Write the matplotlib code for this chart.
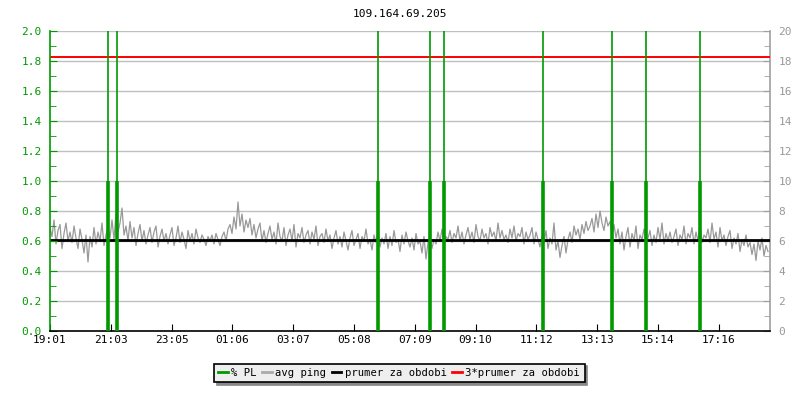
import matplotlib
matplotlib.use("Agg")
import matplotlib.pyplot as plt
from matplotlib.ticker import MultipleLocator
from matplotlib.lines import Line2D

title = "109.164.69.205"
x_tick_labels = ["19:01", "21:03", "23:05", "01:06", "03:07", "05:08",
                 "07:09", "09:10", "11:12", "13:13", "15:14", "17:16"]
x_tick_step_min = 121.6
span_min = 1440

# packet loss events (minutes since 19:01, % PL on left axis)
pl_minutes = [116, 134, 656, 760, 788, 986, 1124, 1192, 1300]
pl_values = [1.0, 1.0, 1.0, 1.0, 1.0, 1.0, 1.0, 1.0, 1.0]

# avg ping (ms, right axis), one sample every 4 minutes
avg_ping = [
    6.9, 6.3, 7.4, 5.8, 6.7, 7.1, 5.5, 6.5, 7.2, 6.0,
    6.6, 5.9, 7.0, 6.2, 5.5, 6.8, 6.1, 5.2, 6.4, 4.6,
    6.3, 5.6, 6.9, 5.8, 6.6, 6.0, 7.2, 5.7, 6.4, 6.9,
    6.2, 7.4, 6.1, 7.8, 6.6, 7.2, 8.2, 6.4, 7.0, 6.0,
    7.3, 6.2, 6.9, 5.7, 6.5, 7.1, 6.0, 6.7, 5.8, 6.4,
    6.9, 5.9, 6.6, 7.0, 5.6, 6.3, 6.8, 6.0, 6.5, 5.8,
    6.4, 6.9, 5.7, 6.2, 7.0, 5.9, 6.6, 6.1, 5.5, 6.7,
    6.0, 6.5, 5.8, 6.8, 6.2, 5.9, 6.4, 6.1, 5.7, 6.3,
    6.0, 6.4, 5.8, 6.5, 6.1, 5.7, 6.3, 6.6, 6.0, 6.8,
    7.1, 6.5, 7.6, 6.8, 8.6, 7.0, 7.8, 6.6, 7.4, 6.9,
    7.5, 6.4, 7.1, 6.2, 6.8, 7.2, 6.0, 6.7, 5.9, 6.5,
    7.0, 6.1, 6.6, 5.8, 7.2, 6.3, 6.0, 6.9, 5.7, 6.4,
    6.8, 6.0, 7.1, 5.6, 6.5, 6.2, 6.9, 5.9, 6.4, 6.7,
    5.8, 6.6, 6.1, 7.0, 5.7, 6.3, 6.5, 5.9, 6.8, 6.0,
    6.4, 5.5, 6.2, 6.7, 5.8, 6.3, 5.6, 6.6, 6.0, 5.4,
    6.2, 6.7, 5.7, 6.1, 6.5, 5.5, 6.3, 6.0, 6.8, 5.8,
    6.1, 5.4, 6.4, 5.9, 6.6, 5.6, 6.2, 5.8, 6.5, 5.5,
    6.3, 5.7, 6.7, 5.9, 6.1, 5.3, 6.4, 5.8, 6.6, 6.0,
    5.6, 6.2, 5.4, 6.5, 5.8, 6.0, 5.2, 6.3, 4.8, 5.9,
    6.4, 5.5, 6.1, 5.8, 6.6, 6.0, 6.8, 5.7, 6.3, 6.1,
    6.7, 5.9, 6.5, 6.2, 7.0, 6.0, 6.6, 5.8, 6.4, 6.9,
    6.1, 6.6, 5.9, 7.1, 6.3, 6.0, 6.8, 6.2, 6.5, 5.8,
    6.9, 6.3, 6.6, 6.0, 7.2, 6.2, 6.7, 6.1, 6.4, 5.9,
    6.8, 6.2, 7.0, 6.0, 6.5, 6.3, 6.9, 5.8, 6.6, 6.1,
    6.4, 6.9, 5.8, 6.6, 6.1, 5.6, 6.3, 5.9, 6.7, 5.5,
    6.2, 5.8, 7.2, 5.4, 6.0, 4.9, 5.7, 6.3, 5.2, 6.1,
    6.6, 5.9, 7.0, 6.4, 6.8, 6.1, 7.1, 6.5, 7.3, 6.7,
    7.0, 7.5, 6.6, 7.8, 6.9, 8.0, 7.2, 6.7, 7.6, 7.0,
    7.3, 6.4, 7.1, 6.2, 6.8, 5.8, 6.6, 5.4, 6.3, 6.9,
    5.6, 6.5, 6.0, 7.0, 5.5, 6.4, 6.1, 6.8, 5.9, 6.2,
    6.7, 5.7, 6.4, 5.9, 6.9, 6.1, 7.2, 5.8, 6.5, 6.0,
    6.6, 5.9, 6.3, 6.8, 5.7, 6.4, 6.1, 7.0, 5.8, 6.5,
    6.2, 6.9, 5.8, 6.6, 6.0, 7.1, 5.9, 6.4, 6.2, 6.8,
    5.9, 7.2, 6.1, 6.6, 5.6, 6.9, 6.0, 6.4, 5.7, 6.3,
    6.7, 5.5, 6.2, 5.8, 6.5, 5.3, 6.1, 5.7, 6.4, 5.6,
    5.9, 5.1, 5.8, 4.7, 6.0, 5.4, 6.2, 5.0, 5.7, 5.3,
]
sample_step_min = 4
mean_ping = 6.1  # prumer za obdobi (ms)

green = "#009900"
gray_line = "#999999"
grid_c = "#c0c0c0"
font = "DejaVu Sans Mono"
fs_tick = 8.0
fs_leg = 7.6

fig = plt.figure(figsize=(8, 4), dpi=100)
ax = fig.add_axes([0.0625, 0.1725, 0.9, 0.75])
ax2 = ax.twinx()

ax.set_xlim(0, span_min)
ax.set_ylim(0, 2.0)
ax2.set_ylim(0, 20)

ax.set_zorder(ax2.get_zorder() + 1)
ax.patch.set_visible(False)

# grid
for g in range(2, 21, 2):
    ax2.axhline(g, color=grid_c, lw=1, zorder=0)

# avg ping on right axis
xs = [i * sample_step_min for i in range(len(avg_ping))]
ax2.plot(xs, avg_ping, color=gray_line, lw=0.9, zorder=2)
ax2.axhline(mean_ping, color="black", lw=2, zorder=3)
ax2.axhline(mean_ping * 3, color="red", lw=1.4, zorder=3)

# packet loss
ax.vlines(pl_minutes, 0, 2.0, color=green, lw=1.2, zorder=4)
ax.vlines(pl_minutes, 0, pl_values, color=green, lw=2.6, zorder=4)

# axes styling
ax.spines["left"].set_color(green)
ax.spines["bottom"].set_color("black")
ax.spines["top"].set_visible(False)
ax.spines["right"].set_visible(False)
ax2.spines["top"].set_visible(False)
ax2.spines["left"].set_visible(False)
ax2.spines["bottom"].set_visible(False)
ax2.spines["right"].set_color("#a0a0a0")
for a in (ax, ax2):
    for s in a.spines.values():
        s.set_linewidth(1.2)

ax.set_yticks([i * 0.2 for i in range(11)])
ax.set_yticklabels([f"{i * 0.2:.1f}" for i in range(11)], fontfamily=font,
                   fontsize=fs_tick, color=green)
ax.yaxis.set_minor_locator(MultipleLocator(0.1))
ax.tick_params(axis="y", which="major", direction="in", length=5, color=green, pad=6)
ax.tick_params(axis="y", which="minor", direction="in", length=4, color=green)

ax2.set_yticks(list(range(0, 21, 2)))
ax2.set_yticklabels([str(v) for v in range(0, 21, 2)], fontfamily=font,
                    fontsize=fs_tick, color="#999999")
ax2.yaxis.set_minor_locator(MultipleLocator(1))
ax2.tick_params(axis="y", which="major", direction="in", length=5, color="#a0a0a0", pad=6)
ax2.tick_params(axis="y", which="minor", direction="in", length=4, color="#a0a0a0")

ax.set_xticks([k * x_tick_step_min for k in range(len(x_tick_labels))])
ax.set_xticklabels(x_tick_labels, fontfamily=font, fontsize=fs_tick, color="black")
ax.tick_params(axis="x", direction="in", length=5, color="black", pad=3)

fig.text(0.5, 0.965, title, ha="center", va="center", fontfamily=font,
         fontsize=8, color="black")

handles = [Line2D([], [], color=green, lw=2),
           Line2D([], [], color="#aaaaaa", lw=2),
           Line2D([], [], color="black", lw=2),
           Line2D([], [], color="red", lw=2)]
labels = ["% PL", "avg ping", "prumer za obdobi", "3*prumer za obdobi"]
leg = fig.legend(handles, labels, loc="center", bbox_to_anchor=(0.499, 0.0675),
                 ncol=4, frameon=True, shadow={"color": "#888888", "alpha": 1},
                 fancybox=False, handlelength=0.9, handletextpad=0.35,
                 columnspacing=0.5, borderpad=0.42, borderaxespad=0,
                 prop={"family": font, "size": fs_leg})
leg.get_frame().set_facecolor("#eeeeee")
leg.get_frame().set_edgecolor("black")
leg.get_frame().set_linewidth(1.2)

fig.savefig("out.png", dpi=100)
